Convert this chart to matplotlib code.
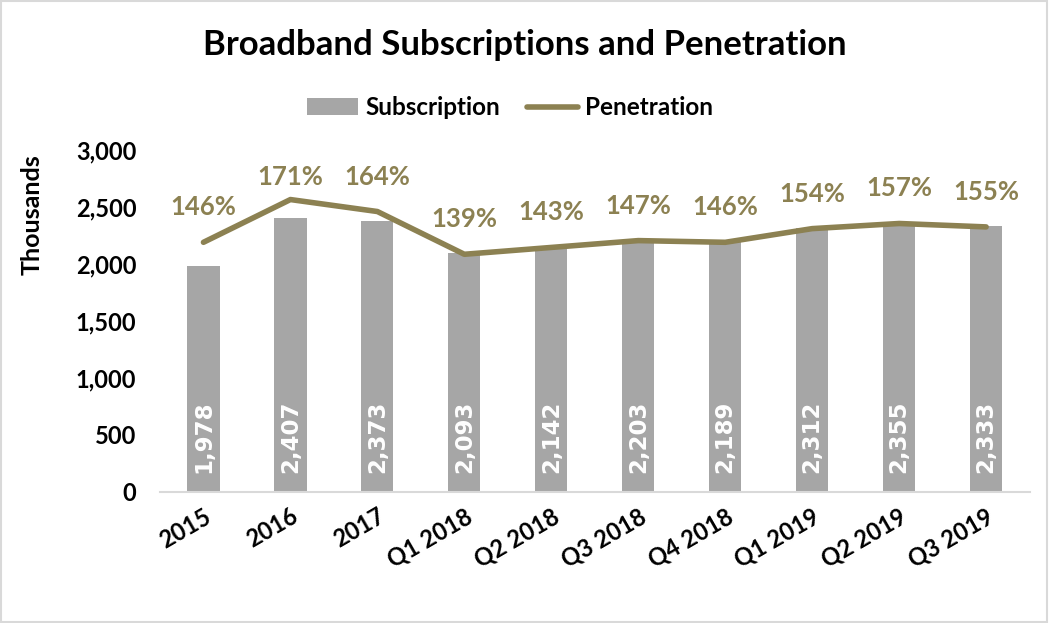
import matplotlib
matplotlib.use("Agg")
import matplotlib.pyplot as plt
from matplotlib.ticker import FuncFormatter

categories = ["2015", "2016", "2017", "Q1 2018", "Q2 2018", "Q3 2018",
              "Q4 2018", "Q1 2019", "Q2 2019", "Q3 2019"]
subscriptions = [1978, 2407, 2373, 2093, 2142, 2203, 2189, 2312, 2355, 2333]
penetration = [146, 171, 164, 139, 143, 147, 146, 154, 157, 155]

FONT = "Lato"
BAR_C = "#A6A6A6"
LINE_C = "#8C8152"

fig = plt.figure(figsize=(10.49, 6.23), dpi=100)
fig.patches.append(plt.Rectangle((0.001, 0.002), 0.997, 0.996, transform=fig.transFigure,
                                 fill=False, edgecolor="#D9D9D9", linewidth=1.5))
ax = fig.add_axes([0.1525, 0.2103, 0.829, 0.549])
x = list(range(len(categories)))
bars = ax.bar(x, subscriptions, width=0.37, color=BAR_C, label="Subscription", zorder=2)
ax.set_xlim(-0.5, len(categories) - 0.5)
ax.set_ylim(0, 3000)
ax.set_yticks(range(0, 3001, 500))
ax.yaxis.set_major_formatter(FuncFormatter(lambda v, p: f"{int(v):,}"))
for s in ["top", "right", "left"]:
    ax.spines[s].set_visible(False)
ax.spines["bottom"].set_color("#D9D9D9")
ax.spines["bottom"].set_linewidth(1.5)
ax.tick_params(axis="both", length=0)
ax.tick_params(axis="y", pad=17)
ax.tick_params(axis="x", pad=9)
ax.set_xticks(x)
ax.set_xticklabels(categories, rotation=30, ha="right", rotation_mode="anchor",
                   fontsize=17, fontweight="bold", family=FONT)
for lbl in ax.get_yticklabels():
    lbl.set_fontsize(17); lbl.set_fontweight("bold"); lbl.set_family(FONT)
fig.text(32 / 1049, 1 - 215 / 623, "Thousands", rotation=90, ha="center", va="center",
         fontsize=18, fontweight="bold", family=FONT)

for xi, v in zip(x, subscriptions):
    ax.text(xi, 165, f"{v:,}", rotation=90, ha="center", va="bottom", color="white",
            fontsize=16.5, fontweight="bold", family="DejaVu Sans", zorder=3)

ax2 = ax.twinx()
ax2.set_ylim(0, 200)
ax2.axis("off")
line, = ax2.plot(x, penetration, color=LINE_C, linewidth=4, label="Penetration",
                 solid_capstyle="round", solid_joinstyle="round", zorder=4)
for xi, p in zip(x, penetration):
    ly = min(p + 20.5, 184)
    ax2.text(xi, ly, f"{p}%", ha="center", va="center", color=LINE_C, fontsize=18.5,
             fontweight="bold", family=FONT)

fig.text(0.5, 1 - 45 / 623, "Broadband Subscriptions and Penetration", ha="center",
         va="center", fontsize=25, fontweight="bold", family=FONT)
fig.legend([bars, line], ["Subscription", "Penetration"], loc="center",
           bbox_to_anchor=(510 / 1049, 1 - 108 / 623), ncol=2, frameon=False,
           prop={"family": FONT, "weight": "bold", "size": 17.5},
           handlelength=2.1, columnspacing=1.1, handletextpad=0.3)

fig.savefig("out.png", dpi=100)
